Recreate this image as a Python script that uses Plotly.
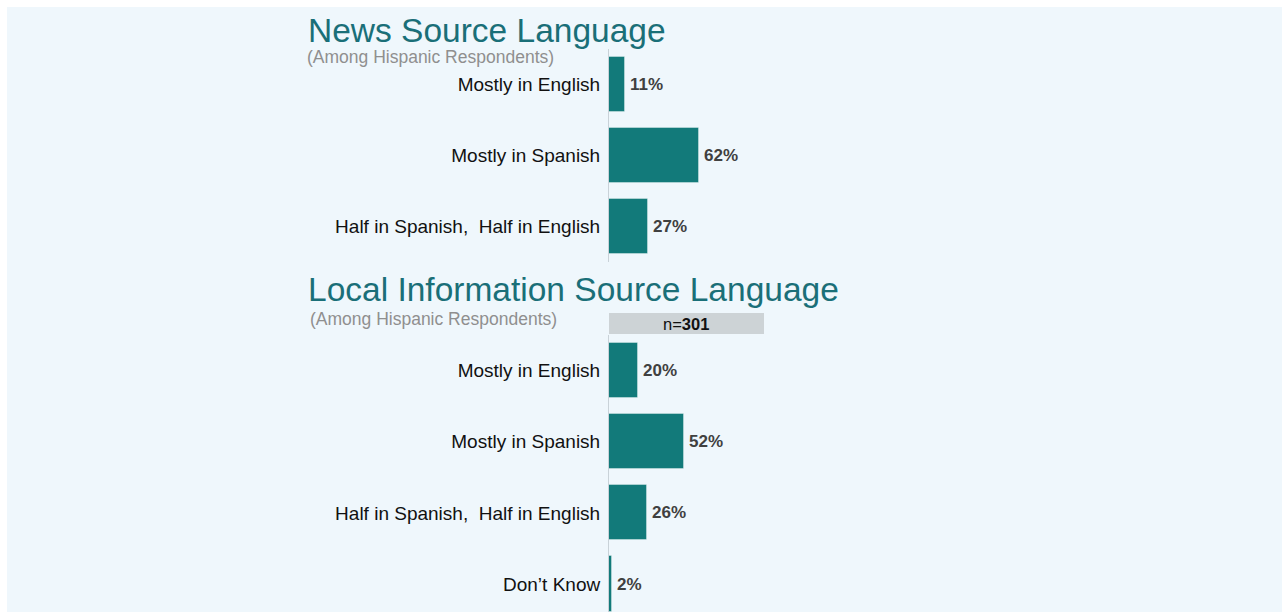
import plotly.graph_objects as go

# Survey results (percent of Hispanic respondents)
news_categories = ["Mostly in English", "Mostly in Spanish", "Half in Spanish,  Half in English"]
news_values = [11, 62, 27]

local_categories = ["Mostly in English", "Mostly in Spanish", "Half in Spanish,  Half in English", "Don\u2019t Know"]
local_values = [20, 52, 26, 2]

sample_size = 301

W, H = 1282, 612
FONT = "Arial, 'Liberation Sans', sans-serif"
BAR = "#127a7a"
TITLE_COLOR = "#1a6f78"
SUB_COLOR = "#8f8f8f"
BG = "#eff7fc"
VALUE_COLOR = "#404040"


def px_x(p):
    return p / W


def px_y(p):
    return 1 - p / H


# axis x position in pixels, and pixels per percentage point
X0 = 609
PPU = 1.447

fig = go.Figure()

fig.add_trace(go.Bar(
    x=news_values, y=list(range(len(news_categories))), orientation="h",
    marker=dict(color=BAR, line=dict(color="rgba(255,255,255,0.35)", width=1)),
    width=0.775, xaxis="x", yaxis="y", showlegend=False, hoverinfo="skip",
))

fig.add_trace(go.Bar(
    x=local_values, y=list(range(len(local_categories))), orientation="h",
    marker=dict(color=BAR, line=dict(color="rgba(255,255,255,0.35)", width=1)),
    width=0.775, xaxis="x2", yaxis="y2", showlegend=False, hoverinfo="skip",
))

xdom = [px_x(X0), px_x(X0 + 100 * PPU)]

common_x = dict(range=[0, 100], showgrid=False, zeroline=False, showticklabels=False,
                showline=False, fixedrange=True)
common_y = dict(showgrid=False, zeroline=False, showline=True, linecolor="#c9d2d8",
                linewidth=1, ticks="", ticklabelstandoff=4,
                tickfont=dict(family=FONT, size=19, color="#111111"), fixedrange=True)

# bottom panel: rows are ~71 px apart, last row partially cut at the bottom edge
bottom_range_end = 3 + (H - 584) / 71.2

# value labels just past the end of each bar
value_labels = []
for xa, ya, vals in (("x", "y", news_values), ("x2", "y2", local_values)):
    for i, v in enumerate(vals):
        value_labels.append(dict(
            text=f"<b>{v}%</b>", xref=xa, yref=ya, x=v, y=i, xshift=3,
            xanchor="left", yanchor="middle", showarrow=False,
            font=dict(family=FONT, size=17, color=VALUE_COLOR)))

fig.update_layout(
    width=W, height=H,
    margin=dict(l=0, r=0, t=0, b=0),
    paper_bgcolor="white",
    plot_bgcolor="rgba(0,0,0,0)",
    bargap=0,
    xaxis=dict(domain=xdom, anchor="y", **common_x),
    yaxis=dict(domain=[px_y(262), px_y(49)], range=[2.5, -0.5], anchor="x",
               tickvals=list(range(len(news_categories))), ticktext=news_categories, **common_y),
    xaxis2=dict(domain=xdom, anchor="y2", **common_x),
    yaxis2=dict(domain=[0, px_y(335)], range=[bottom_range_end, -0.5], anchor="x2",
                tickvals=list(range(len(local_categories))), ticktext=local_categories, **common_y),
    shapes=[
        # light panel background
        dict(type="rect", xref="paper", yref="paper", x0=px_x(7), x1=1, y0=0, y1=px_y(7),
             fillcolor=BG, line=dict(width=0), layer="below"),
        # sample size banner
        dict(type="rect", xref="paper", yref="paper", x0=px_x(609), x1=px_x(764),
             y0=px_y(334), y1=px_y(313), fillcolor="#cdd3d6", line=dict(width=0), layer="below"),
    ],
    annotations=value_labels + [
        dict(text="News Source Language", xref="paper", yref="paper", x=px_x(306), y=px_y(30),
             xanchor="left", yanchor="middle", showarrow=False,
             font=dict(family=FONT, size=33.5, color=TITLE_COLOR)),
        dict(text="(Among Hispanic Respondents)", xref="paper", yref="paper", x=px_x(305), y=px_y(57),
             xanchor="left", yanchor="middle", showarrow=False,
             font=dict(family=FONT, size=17.5, color=SUB_COLOR)),
        dict(text="Local Information Source Language", xref="paper", yref="paper", x=px_x(306), y=px_y(289),
             xanchor="left", yanchor="middle", showarrow=False,
             font=dict(family=FONT, size=33.5, color=TITLE_COLOR)),
        dict(text="(Among Hispanic Respondents)", xref="paper", yref="paper", x=px_x(308), y=px_y(319),
             xanchor="left", yanchor="middle", showarrow=False,
             font=dict(family=FONT, size=17.5, color=SUB_COLOR)),
        dict(text=f"n=<b>{sample_size}</b>", xref="paper", yref="paper", x=px_x(686), y=px_y(324),
             xanchor="center", yanchor="middle", showarrow=False,
             font=dict(family=FONT, size=16.5, color="#111111")),
    ],
)

fig.write_html("out.html", config={"displayModeBar": False})
